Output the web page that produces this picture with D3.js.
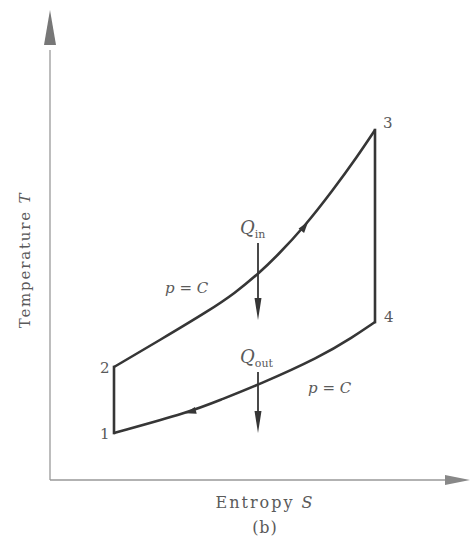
<!DOCTYPE html>
<html>
<head>
<meta charset="utf-8">
<script src="https://cdn.jsdelivr.net/npm/d3@7"></script>
<style>
  body { margin: 0; background: #fff; }
  text { font-family: "DejaVu Serif", "Liberation Serif", serif; fill: #5a5a5a; }
</style>
</head>
<body>
<div id="chart"></div>
<script>
// Chart size
const width = 474;
const height = 547;

// Cycle data (entropy s, temperature T), arbitrary units
const statePoints = [
  { id: '1', s: 64, T: 47 },
  { id: '2', s: 64, T: 113 },
  { id: '3', s: 325, T: 350 },
  { id: '4', s: 325, T: 158 }
];
// heat addition p = C, from 2 to 3
const heatInS = [64, 110, 160, 185, 208, 227, 255, 283, 307, 325];
const heatInT = [113, 140, 170, 187, 206, 224, 254, 290, 323, 350];
// heat rejection p = C, from 1 to 4 (flow goes 4 -> 1)
const heatOutS = [64, 140, 170, 208, 270, 303, 325];
const heatOutT = [47, 68, 80, 95, 123, 143, 158];
// heat arrows
const qArrows = [
  { label: 'in', s: 208, T0: 237, T1: 160 },
  { label: 'out', s: 208, T0: 108, T1: 47 }
];

const svg = d3.select('#chart')
  .append('svg')
  .attr('width', width)
  .attr('height', height);

// Scales
const x = d3.scaleLinear().domain([0, 420]).range([50, 470]);
const y = d3.scaleLinear().domain([0, 470]).range([480, 10]);

const ink = '#363636';

// Axes (plain lines with arrow heads)
svg.append('line')
  .attr('x1', x(0)).attr('y1', y(0))
  .attr('x2', x(0)).attr('y2', y(430))
  .attr('stroke', '#999').attr('stroke-width', 1.3);
svg.append('line')
  .attr('x1', x(0)).attr('y1', y(0))
  .attr('x2', x(398)).attr('y2', y(0))
  .attr('stroke', '#999').attr('stroke-width', 1.3);

// Axis arrow heads
svg.append('path')
  .attr('d', `M${x(0)},${y(470)} L${x(0) + 6},${y(435)} L${x(0) - 6},${y(435)} Z`)
  .attr('fill', '#777');
svg.append('path')
  .attr('d', `M${x(420)},${y(0)} L${x(395)},${y(0) - 5} L${x(395)},${y(0) + 5} Z`)
  .attr('fill', '#888');

// Axis labels
svg.append('text')
  .attr('transform', `translate(${x(0) - 20},${(y(0) + y(470)) / 2 + 15}) rotate(-90)`)
  .attr('text-anchor', 'middle')
  .style('font-size', '15px')
  .style('letter-spacing', '1.8px')
  .html('Temperature <tspan font-style="italic">T</tspan>');

svg.append('text')
  .attr('x', 265)
  .attr('y', 508)
  .attr('text-anchor', 'middle')
  .style('font-size', '16px')
  .style('letter-spacing', '2px')
  .html('Entropy <tspan font-style="italic">S</tspan>');

svg.append('text')
  .attr('x', 265)
  .attr('y', 533)
  .attr('text-anchor', 'middle')
  .style('font-size', '16px')
  .style('letter-spacing', '1px')
  .text('(b)');

// Process curves
const line = d3.line()
  .x(d => x(d[0]))
  .y(d => y(d[1]))
  .curve(d3.curveBasis);

const inData = heatInS.map((s, i) => [s, heatInT[i]]);
const outData = heatOutS.map((s, i) => [s, heatOutT[i]]);

svg.append('path')
  .datum(inData)
  .attr('d', line)
  .attr('fill', 'none')
  .attr('stroke', ink)
  .attr('stroke-width', 2.6);

svg.append('path')
  .datum(outData)
  .attr('d', line)
  .attr('fill', 'none')
  .attr('stroke', ink)
  .attr('stroke-width', 2.6);

// Isentropic lines 1-2 and 3-4
const p = {};
statePoints.forEach(d => { p[d.id] = d; });
[['1', '2'], ['4', '3']].forEach(([a, b]) => {
  svg.append('line')
    .attr('x1', x(p[a].s)).attr('y1', y(p[a].T))
    .attr('x2', x(p[b].s)).attr('y2', y(p[b].T))
    .attr('stroke', ink)
    .attr('stroke-width', 2.6)
    .attr('stroke-linecap', 'square');
});

// Small direction arrows on the curves
function flowArrow(from, to) {
  const x0 = x(from[0]), y0 = y(from[1]);
  const x1 = x(to[0]), y1 = y(to[1]);
  const ang = Math.atan2(y1 - y0, x1 - x0) * 180 / Math.PI;
  svg.append('path')
    .attr('d', 'M5,0 L-6,-3.5 L-6,3.5 Z')
    .attr('transform', `translate(${x0},${y0}) rotate(${ang})`)
    .attr('fill', ink);
}
flowArrow(inData[6], inData[7]);
flowArrow(outData[1], outData[0]);

// Heat arrows
qArrows.forEach(d => {
  svg.append('line')
    .attr('x1', x(d.s)).attr('y1', y(d.T0))
    .attr('x2', x(d.s)).attr('y2', y(d.T1) - 18)
    .attr('stroke', ink)
    .attr('stroke-width', 1.8);
  svg.append('path')
    .attr('d', `M${x(d.s)},${y(d.T1)} L${x(d.s) - 3.5},${y(d.T1) - 22} L${x(d.s) + 3.5},${y(d.T1) - 22} Z`)
    .attr('fill', ink);

  const t = svg.append('text')
    .attr('x', x(d.s) - 18)
    .attr('y', y(d.T0) - 9)
    .style('font-size', '18px');
  t.append('tspan').attr('font-style', 'italic').text('Q');
  t.append('tspan')
    .attr('dy', 4)
    .style('font-size', '11px')
    .text(d.label);
});

// p = C labels
function pLabel(s, T) {
  const t = svg.append('text')
    .attr('x', x(s))
    .attr('y', y(T))
    .style('font-size', '15px');
  t.append('tspan').attr('font-style', 'italic').text('p');
  t.append('tspan').text(' = ');
  t.append('tspan').attr('font-style', 'italic').text('C');
}
pLabel(115, 187);
pLabel(258, 87);

// State point labels
const labelOffsets = { '1': [-14, 6], '2': [-14, 6], '3': [8, -2], '4': [9, 0] };
statePoints.forEach(d => {
  svg.append('text')
    .attr('x', x(d.s) + labelOffsets[d.id][0])
    .attr('y', y(d.T) + labelOffsets[d.id][1])
    .style('font-size', '15px')
    .text(d.id);
});
</script>
</body>
</html>
